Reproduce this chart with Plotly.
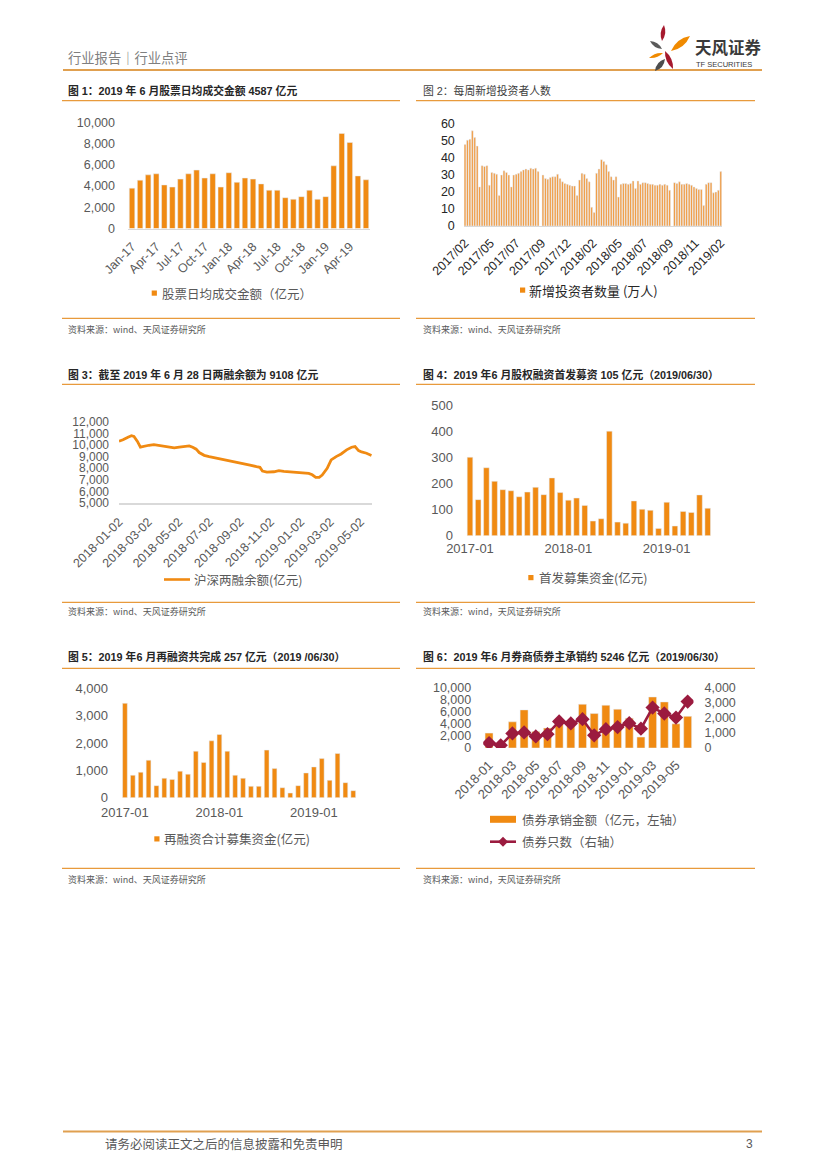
import plotly.graph_objects as go

W, H = 827, 1170
OFF = 8  # the page body margin shifts the figure; compensate
ORANGE = '#F08A12'
MAROON = '#9B1B3F'
GRAY = '#595959'
LINEC = '#E89A3C'
NUM = 'Liberation Sans, Arial, Noto Sans CJK SC'
CJK = 'Noto Sans CJK SC, Liberation Sans'

# ---------------- data ----------------
months_17_19 = [f"{y}-{m:02d}" for y in (2017, 2018, 2019) for m in range(1, 13)][:30]
mon_abbr = ['Jan', 'Feb', 'Mar', 'Apr', 'May', 'Jun', 'Jul', 'Aug', 'Sep', 'Oct', 'Nov', 'Dec']
c1_months = [f"{mon_abbr[m-1]}-{y % 100}" for y in (2017, 2018, 2019) for m in range(1, 13)][:30]
c1_vals = [3800, 4550, 5050, 5150, 4100, 3900, 4650, 5150, 5500, 4750, 5150, 3900,
           5250, 4350, 4750, 4650, 4200, 3600, 3600, 2900, 2750, 3000, 3600, 2750,
           3000, 5900, 8950, 8100, 4950, 4587]

c2_vals = [48, 50.5, 51, 56, 52, 47,
           23, 35.5, 35, 35.5, 24, 31.5, 31, 30.5, 18, 30, 32.5, 31.5, 30, 23, 30, 30.5,
           31, 32, 33, 33.5, 33, 34, 33.5, 34, 32,
           None,
           30, 28, 27.5, 28.5, 29, 29, 30.5, 28, 26, 25, 24.5, 24, 23.5, 23.5, 18,
           27, 31, 30.5, 28, 26, 11, 8,
           31, 33.5, 39, 38, 36, 32, 29, 27, 29, 17,
           24.5, 25, 25, 24.5, 25, 26.5, 22, 26.5, 24.5, 25.5, 25.5, 25, 24.5, 24.5, 24,
           24, 24.5, 24, 24.5, 24, 21,
           None,
           25.5, 25, 26, 24.5, 24.5, 25, 24.5, 24, 23, 22, 21.5, 21.5, 12,
           24.5, 25.5, 25.5, 19.5, 20, 21, 32]
c2_ticklabels = ['2017/02', '2017/05', '2017/07', '2017/09', '2017/12', '2018/02',
                 '2018/05', '2018/07', '2018/09', '2018/11', '2019/02']

c3_dates = ['2018-01-02', '2018-01-10', '2018-01-20', '2018-01-27', '2018-02-01', '2018-02-08',
            '2018-02-14', '2018-02-23', '2018-03-03', '2018-03-13', '2018-03-23', '2018-04-03',
            '2018-04-13', '2018-04-23', '2018-05-03', '2018-05-13', '2018-05-23', '2018-05-30',
            '2018-06-06', '2018-06-12', '2018-06-22', '2018-07-02', '2018-07-16', '2018-07-30',
            '2018-08-12', '2018-08-26', '2018-09-08', '2018-09-22', '2018-10-05', '2018-10-12',
            '2018-10-17', '2018-10-26', '2018-11-09', '2018-11-19', '2018-11-29', '2018-12-12',
            '2018-12-26', '2019-01-08', '2019-01-18', '2019-01-25', '2019-02-01', '2019-02-08',
            '2019-02-14', '2019-02-24', '2019-03-04', '2019-03-14', '2019-03-24', '2019-04-04',
            '2019-04-14', '2019-04-21', '2019-04-28', '2019-05-04', '2019-05-14', '2019-05-24']
c3_vals = [10340, 10460, 10690, 10810, 10750, 10320, 9820, 9940, 9990, 10050, 9990, 9940,
           9880, 9760, 9820, 9880, 9940, 9820, 9650, 9360, 9120, 9010, 8890, 8780,
           8660, 8570, 8430, 8280, 8140, 8080, 7760, 7670, 7700, 7790, 7730, 7700,
           7670, 7580, 7560, 7440, 7210, 7210, 7410, 7990, 8720, 9010, 9240, 9590,
           9820, 9880, 9530, 9410, 9300, 9108]
c3_ticklabels = ['2018-01-02', '2018-03-02', '2018-05-02', '2018-07-02', '2018-09-02',
                 '2018-11-02', '2019-01-02', '2019-03-02', '2019-05-02']

c4_vals = [300, 138, 260, 208, 176, 172, 149, 167, 185, 157, 221, 165,
           136, 144, 116, 56, 65, 400, 52, 48, 133, 101, 97, 28,
           128, 37, 93, 89, 156, 105]

c5_vals = [3450, 820, 930, 1370, 440, 710, 670, 970, 860, 1700, 1290, 2080,
           2310, 1700, 820, 710, 415, 415, 1740, 1065, 365, 170, 440, 905,
           1125, 1430, 635, 1615, 550, 257]

c6_months = [f"{y}-{m:02d}" for y in (2018, 2019) for m in range(1, 13)][:18]
c6_bars = [2470, 600, 4340, 6320, 2750, 3300, 4400, 3950, 7250, 5710, 7090, 6430,
           4950, 1810, 8460, 7640, 4010, 5246]
c6_line = [330, 180, 970, 1030, 770, 920, 1760, 1630, 1910, 840, 1250, 1390,
           1650, 1280, 2680, 2290, 2020, 3080]


# ---------------- helpers (page pixels -> paper) ----------------
def px(x):
    return (x - OFF) / W


def py(y):
    return 1 - (y - OFF) / H


def xd(a, b):
    return [px(a), px(b)]


def yd(top, bottom):
    return [py(bottom), py(top)]


annotations = []
shapes = []


def ann(x, y, text, size, color, xanchor='left', family=CJK):
    annotations.append(dict(x=px(x), y=py(y), xref='paper', yref='paper', text=text,
                            showarrow=False, xanchor=xanchor, yanchor='middle',
                            font=dict(size=size, color=color, family=family)))


def hline(x0, x1, y, color=LINEC, width=1.3):
    shapes.append(dict(type='line', xref='paper', yref='paper', x0=px(x0), x1=px(x1),
                       y0=py(y), y1=py(y), line=dict(color=color, width=width)))


def rect(x0, x1, y0, y1, color):
    shapes.append(dict(type='rect', xref='paper', yref='paper', x0=px(x0), x1=px(x1),
                       y0=py(y1), y1=py(y0), fillcolor=color, line=dict(width=0)))


def petal(x0, y0, x1, y1, wdt, color):
    mx, my = (x0 + x1) / 2, (y0 + y1) / 2
    dx, dy = x1 - x0, y1 - y0
    ln = (dx * dx + dy * dy) ** 0.5
    nx, ny = -dy / ln * wdt, dx / ln * wdt
    p = (f"M {px(x0)},{py(y0)} Q {px(mx + nx)},{py(my + ny)} {px(x1)},{py(y1)} "
         f"Q {px(mx - nx)},{py(my - ny)} {px(x0)},{py(y0)} Z")
    shapes.append(dict(type='path', xref='paper', yref='paper', path=p,
                       fillcolor=color, line=dict(width=0)))


def diamond(cx, cy, r, color):
    p = (f"M {px(cx)},{py(cy - r)} L {px(cx + r)},{py(cy)} L {px(cx)},{py(cy + r)} "
         f"L {px(cx - r)},{py(cy)} Z")
    shapes.append(dict(type='path', xref='paper', yref='paper', path=p,
                       fillcolor=color, line=dict(width=0)))


# ---------------- traces ----------------
fig = go.Figure()
fig.add_trace(go.Bar(x=c1_months, y=c1_vals, marker_color=ORANGE, width=0.68,
                     xaxis='x', yaxis='y'))
c2_x = list(range(len(c2_vals)))
fig.add_trace(go.Bar(x=c2_x, y=c2_vals, marker_color='#F29533', width=0.72,
                     xaxis='x2', yaxis='y2'))
fig.add_trace(go.Scatter(x=c3_dates, y=c3_vals, mode='lines',
                         line=dict(color=ORANGE, width=2.8), xaxis='x3', yaxis='y3'))
fig.add_trace(go.Bar(x=months_17_19, y=c4_vals, marker_color=ORANGE, width=0.68,
                     xaxis='x4', yaxis='y4'))
fig.add_trace(go.Bar(x=months_17_19, y=c5_vals, marker_color=ORANGE, width=0.6,
                     xaxis='x5', yaxis='y5'))
fig.add_trace(go.Bar(x=c6_months, y=c6_bars, marker_color=ORANGE, width=0.68,
                     xaxis='x6', yaxis='y6'))
fig.add_trace(go.Scatter(x=c6_months, y=c6_line, mode='lines+markers',
                         line=dict(color=MAROON, width=2.6),
                         marker=dict(symbol='diamond', size=11, color=MAROON),
                         xaxis='x6', yaxis='y7'))

tickf = dict(family=NUM, size=12.5, color=GRAY)
ybase = dict(showgrid=False, zeroline=False, showline=False, ticks='', tickfont=tickf,
             tickformat=',', fixedrange=True, automargin=False)
xbase = dict(showgrid=False, zeroline=False, ticks='', tickfont=tickf, fixedrange=True,
             automargin=False)

n2 = len(c2_vals)
c2_tickpos = [round(k * (n2 - 1) / 10, 2) for k in range(11)]

layout = dict(
    width=W, height=H, margin=dict(l=0, r=0, t=0, b=0, pad=0, autoexpand=False),
    paper_bgcolor='white', plot_bgcolor='white', showlegend=False,
    xaxis=dict(xbase, domain=xd(128, 370), anchor='y', type='category',
               tickmode='array', tickvals=[c1_months[i] for i in range(0, 30, 3)],
               tickangle=-45, showline=True, linecolor='#D9D9D9', linewidth=1,
               ticklabelstandoff=5, range=[-0.5, 29.5]),
    yaxis=dict(ybase, domain=yd(122.3, 228.5), anchor='x', range=[0, 10000],
               tickvals=[0, 2000, 4000, 6000, 8000, 10000], ticklabelstandoff=12),
    xaxis2=dict(xbase, domain=xd(463.8, 722), anchor='y2', type='linear',
                range=[-0.5, n2 - 0.5], tickmode='array', tickvals=c2_tickpos,
                ticktext=c2_ticklabels, tickangle=-45, showline=True,
                linecolor='#D9D9D9', linewidth=1, ticklabelstandoff=4,
                tickfont=dict(family=NUM, size=12.5, color='#262626')),
    yaxis2=dict(ybase, domain=yd(124, 226), anchor='x2', range=[0, 60],
                tickvals=[0, 10, 20, 30, 40, 50, 60], ticklabelstandoff=8,
                tickfont=dict(family=NUM, size=12.5, color='#262626')),
    xaxis3=dict(xbase, domain=xd(119, 372), anchor='y3', type='date',
                range=['2018-01-02', '2019-05-25'], tickmode='array',
                tickvals=c3_ticklabels, ticktext=c3_ticklabels, tickangle=-45,
                showline=True, linecolor='#D9D9D9', linewidth=1.5, ticklabelstandoff=5,
                tickfont=dict(family=NUM, size=12.5, color=GRAY)),
    yaxis3=dict(ybase, domain=yd(422, 503), anchor='x3', range=[5000, 12000],
                tickvals=list(range(5000, 12001, 1000)), ticklabelstandoff=9,
                tickfont=dict(family=NUM, size=12, color=GRAY)),
    xaxis4=dict(xbase, domain=xd(465.9, 711.8), anchor='y4', type='category',
                tickmode='array', tickvals=['2017-01', '2018-01', '2019-01'],
                tickangle=0, showline=False, ticklabelstandoff=3, range=[-0.5, 29.5],
                tickfont=dict(family=NUM, size=13, color=GRAY)),
    yaxis4=dict(ybase, domain=yd(405, 535.7), anchor='x4', range=[0, 500],
                tickvals=[0, 100, 200, 300, 400, 500], ticklabelstandoff=12,
                tickfont=dict(family=NUM, size=13, color=GRAY)),
    xaxis5=dict(xbase, domain=xd(121, 357.2), anchor='y5', type='category',
                tickmode='array', tickvals=['2017-01', '2018-01', '2019-01'],
                tickangle=0, showline=False, ticklabelstandoff=5, range=[-0.5, 29.5],
                tickfont=dict(family=NUM, size=13, color=GRAY)),
    yaxis5=dict(ybase, domain=yd(688.3, 797.7), anchor='x5', range=[0, 4000],
                tickvals=[0, 1000, 2000, 3000, 4000], ticklabelstandoff=12,
                tickfont=dict(family=NUM, size=13, color=GRAY)),
    xaxis6=dict(xbase, domain=xd(483.2, 693.5), anchor='y6', type='category',
                tickmode='array', tickvals=[c6_months[i] for i in range(0, 18, 2)],
                tickangle=-45, showline=False, ticklabelstandoff=6, range=[-0.5, 17.5],
                tickfont=dict(family=NUM, size=13, color=GRAY)),
    yaxis6=dict(ybase, domain=yd(687.7, 748), anchor='x6', range=[0, 10000],
                tickvals=[0, 2000, 4000, 6000, 8000, 10000], ticklabelstandoff=11),
    yaxis7=dict(ybase, domain=yd(687.7, 748), anchor='x6', overlaying='y6', side='right',
                range=[0, 4000], tickvals=[0, 1000, 2000, 3000, 4000], ticklabelstandoff=10),
)

# ---------------- page furniture ----------------
# header
ann(66, 58, '行业报告｜行业点评', 13.3, '#7F7F7F')
hline(63, 762, 70, '#E0A050', 2)
petal(664, 25, 662, 41, 4.5, '#A6192E')
petal(671, 51, 690, 36, 6.5, '#F08A00')
petal(650, 41, 662, 49, 4.2, '#5A5A5A')
petal(649, 58, 663, 53, 3.6, '#F08A00')
petal(665, 51, 673, 69, 5.0, '#A6192E')
petal(655, 71, 665, 59, 5.2, '#4D4D4D')
ann(693, 47, '<b>天风证券</b>', 16.5, '#3A3A3A')
ann(694, 64, 'TF SECURITIES', 7.5, '#3A3A3A', family=NUM)

# titles
TF = 'Liberation Sans, Noto Sans CJK SC'
ann(66, 91, '<b>图 1：2019 年 6 月股票日均成交金额 4587 亿元</b>', 10.8, '#262626', family=TF)
ann(421, 91, '图 2：每周新增投资者人数', 10.8, '#404040', family=TF)
ann(66, 374, '<b>图 3：截至 2019 年 6 月 28 日两融余额为 9108 亿元</b>', 10.8, '#262626', family=TF)
ann(421, 374, '<b>图 4：2019 年6 月股权融资首发募资 105 亿元（2019/06/30）</b>', 10.8, '#262626', family=TF)
ann(66, 656.5, '<b>图 5：2019 年6 月再融资共完成 257 亿元（2019 /06/30）</b>', 10.8, '#262626', family=TF)
ann(421, 656.5, '<b>图 6：2019 年6 月券商债券主承销约 5246 亿元（2019/06/30）</b>', 10.8, '#262626', family=TF)
for (x0, x1) in [(62, 400), (416, 755)]:
    hline(x0, x1, 100.7)
    hline(x0, x1, 384.3)
    hline(x0, x1, 668.3)
    hline(x0, x1, 318.3)
    hline(x0, x1, 602.3)
    hline(x0, x1, 868.3)

# sources
ann(66, 329, '资料来源：wind、天风证券研究所', 9, GRAY)
ann(421, 329, '资料来源：wind、天风证券研究所', 9, GRAY)
ann(66, 611.5, '资料来源：wind、天风证券研究所', 9, GRAY)
ann(421, 611.5, '资料来源：wind，天风证券研究所', 9, GRAY)
ann(66, 879, '资料来源：wind、天风证券研究所', 9, GRAY)
ann(421, 879, '资料来源：wind，天风证券研究所', 9, GRAY)

# legends
rect(151.7, 156.9, 290.5, 295.7, ORANGE)
ann(159.5, 293.5, '股票日均成交金额（亿元）', 12.5, GRAY)
rect(520, 525.2, 287.5, 292.7, ORANGE)
ann(527, 290.5, '新增投资者数量 (万人)', 13, '#262626')
hline(164, 190, 579.5, ORANGE, 2.6)
ann(192, 579.5, '沪深两融余额(亿元)', 12.5, GRAY)
rect(528.3, 533.5, 575, 580.2, ORANGE)
ann(537, 577.5, '首发募集资金(亿元)', 12.5, GRAY)
rect(154.3, 159.5, 836.3, 841.5, ORANGE)
ann(161.5, 838.8, '再融资合计募集资金(亿元)', 12.5, GRAY)
rect(490, 516, 815.8, 822.8, ORANGE)
ann(520, 819.3, '债券承销金额（亿元，左轴）', 12.5, GRAY)
hline(490, 516, 841.7, MAROON, 2.6)
diamond(503, 841.7, 5, MAROON)
ann(520, 841.7, '债券只数（右轴）', 12.5, GRAY)

# footer
hline(63, 762, 1131.5, '#E0A050', 2)
ann(103, 1143.5, '请务必阅读正文之后的信息披露和免责申明', 12.5, '#595959')
ann(755, 1143.5, '3', 12, '#595959', xanchor='right', family=NUM)

layout['annotations'] = annotations
layout['shapes'] = shapes
fig.update_layout(**layout)
fig.write_html('out.html')
